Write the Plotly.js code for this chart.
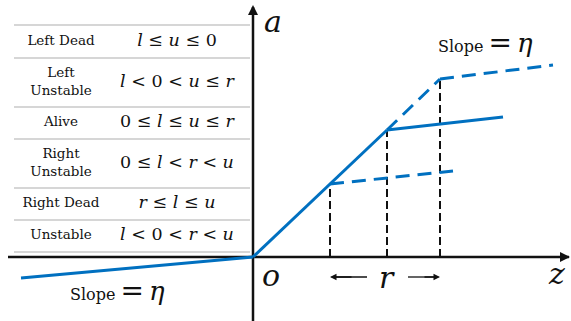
<!DOCTYPE html>
<html>
<head>
<meta charset="utf-8">
<script src="https://cdn.plot.ly/plotly-3.0.1.min.js"></script>
<style>
  html, body { margin: 0; padding: 0; background: #fff; }
  #chart { width: 571px; height: 321px; }
</style>
</head>
<body>
<div id="chart"></div>
<script>
// State table
const states = ["Left Dead", "Left<br>Unstable", "Alive", "Right<br>Unstable", "Right Dead", "Unstable"];
const conditions = ["l ≤ u ≤ 0", "l < 0 < u ≤ r", "0 ≤ l ≤ u ≤ r", "0 ≤ l < r < u", "r ≤ l ≤ u", "l < 0 < r < u"];
const rowEdges = [232, 199, 150, 118, 69, 37, 5];

// Activation curve (origin at 0,0)
const leftX = [-232, 0];
const leftY = [-21, 0];
const rampX = [0, 77, 134];
const rampY = [0, 73, 127];
const rampDashX = [134, 187];
const rampDashY = [127, 178];
const lowFlatX = [77, 200];
const lowFlatY = [73, 86];
const midFlatX = [134, 250];
const midFlatY = [127, 140];
const topFlatX = [187, 300];
const topFlatY = [178, 192];
const dropX = [77, 134, 187];

const blue = "#0070C0";
const serif = "DejaVu Serif, serif";

function mathText(s) {
    return s.replace(/([lur])/g, "<i>$1</i>");
}

const traces = [];

// table rules
rowEdges.forEach(function (y) {
    traces.push({
        x: [-239, -3], y: [y, y], mode: "lines",
        line: { color: "#c8c8c8", width: 1.5 }, hoverinfo: "skip"
    });
});

// table text
const centers = [];
for (let i = 0; i < states.length; i++) {
    centers.push((rowEdges[i] + rowEdges[i + 1]) / 2);
}
traces.push({
    x: states.map(function () { return -192; }), y: centers,
    text: states, mode: "text",
    textfont: { family: serif, size: 13.5, color: "#111" }, hoverinfo: "skip"
});
traces.push({
    x: conditions.map(function () { return -76; }), y: centers,
    text: conditions.map(mathText), mode: "text",
    textfont: { family: serif, size: 17.5, color: "#111" }, hoverinfo: "skip"
});

// black dashed drops
dropX.forEach(function (x, i) {
    const top = [lowFlatY[0], midFlatY[0], topFlatY[0]][i];
    traces.push({
        x: [x, x], y: [0, top], mode: "lines",
        line: { color: "#111", width: 2, dash: "8px,4px" }, hoverinfo: "skip"
    });
});

// axes
traces.push({ x: [-245, 316], y: [0, 0], mode: "lines", line: { color: "#111", width: 2.5 }, hoverinfo: "skip" });
traces.push({ x: [0, 0], y: [-64, 250], mode: "lines", line: { color: "#111", width: 2.5 }, hoverinfo: "skip" });

// r span arrows
traces.push({ x: [79, 114], y: [-20, -20], mode: "lines", line: { color: "#111", width: 1.3 }, hoverinfo: "skip" });
traces.push({ x: [155, 185], y: [-20, -20], mode: "lines", line: { color: "#111", width: 1.3 }, hoverinfo: "skip" });

// blue curves
const solid = { color: blue, width: 3 };
const dashed = { color: blue, width: 3, dash: "14px,8px" };
traces.push({ x: leftX, y: leftY, mode: "lines", line: solid, hoverinfo: "skip" });
traces.push({ x: rampX, y: rampY, mode: "lines", line: solid, hoverinfo: "skip" });
traces.push({ x: midFlatX, y: midFlatY, mode: "lines", line: solid, hoverinfo: "skip" });
traces.push({ x: rampDashX, y: rampDashY, mode: "lines", line: dashed, hoverinfo: "skip" });
traces.push({ x: lowFlatX, y: lowFlatY, mode: "lines", line: dashed, hoverinfo: "skip" });
traces.push({ x: topFlatX, y: topFlatY, mode: "lines", line: dashed, hoverinfo: "skip" });

function label(x, y, text, size) {
    return {
        x: x, y: y, xref: "x", yref: "y", text: text, showarrow: false,
        font: { family: serif, size: size, color: "#111" }
    };
}

function arrow(x0, y0, x1, y1, w) {
    return {
        x: x1, y: y1, ax: x0, ay: y0, xref: "x", yref: "y", axref: "x", ayref: "y",
        text: "", showarrow: true, arrowhead: 2, arrowsize: 1, arrowwidth: w, arrowcolor: "#111"
    };
}

const slopeText = 'Slope <span style="font-size:28px">=</span> <span style="font-size:26px"><i>η</i></span>';

const layout = {
    width: 571,
    height: 321,
    margin: { l: 0, r: 0, t: 0, b: 0 },
    paper_bgcolor: "#fff",
    plot_bgcolor: "#fff",
    showlegend: false,
    font: { family: serif },
    xaxis: { range: [-253, 318], visible: false, fixedrange: true },
    yaxis: { range: [-64, 257], visible: false, fixedrange: true },
    annotations: [
        arrow(0, 240, 0, 252, 2),
        arrow(300, 0, 317, 0, 2),
        arrow(100, -20, 77, -20, 1.3),
        arrow(170, -20, 187, -20, 1.3),
        label(20, 236, "<i>a</i>", 30),
        label(18, -18, "<i>o</i>", 30),
        label(303, -16, "<i>z</i>", 30),
        label(134, -20, "<i>r</i>", 30),
        label(232, 215, slopeText, 16),
        label(-136, -33, slopeText, 16)
    ]
};

Plotly.newPlot("chart", traces, layout, { displayModeBar: false, staticPlot: true });
</script>
</body>
</html>
